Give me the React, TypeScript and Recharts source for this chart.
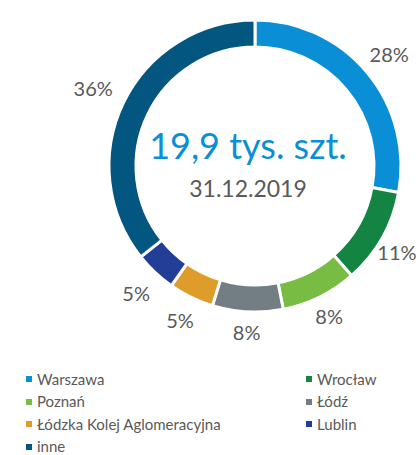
import React from 'react';
import { PieChart, Pie, Cell, Legend } from 'recharts';

// udział w taborze, %
const cities = ['Warszawa', 'Wrocław', 'Poznań', 'Łódź', 'Łódzka Kolej Aglomeracyjna', 'Lublin', 'inne'];
const shares = [27.9, 10.6, 8.4, 7.8, 5.0, 4.6, 35.7];
const colors = ['#0a8fd6', '#138441', '#79bc43', '#737d84', '#de9c2b', '#233e97', '#03567f'];

const totalLabel = '19,9 tys. szt.';
const dateLabel = '31.12.2019';

const data = cities.map((name, i) => ({ name, value: shares[i], color: colors[i] }));

const FONT = 'Lato, "Open Sans", sans-serif';
const RADIAN = Math.PI / 180;
const LABEL_FS = 20;
const WIDTH = 420;

// label box sits just outside the ring, like Excel's "outside end"
const renderLabel = (props: any) => {
  const { cx, cy, midAngle, outerRadius, value } = props;
  const text = `${Math.round(value)}%`;
  const w = ((text.length - 1) * 0.58 + 0.85) * LABEL_FS;
  const h = 16;
  const cos = Math.cos(-midAngle * RADIAN);
  const sin = Math.sin(-midAngle * RADIAN);
  const gap = cos < 0 ? 12 : 8;
  const r = outerRadius + gap + (w / 2) * Math.abs(cos) + (h / 2) * Math.abs(sin);
  const x = Math.min(cx + r * cos, WIDTH - w / 2 - 3);
  const y = cy + r * sin;
  return (
    <text x={x} y={y} fill="#595959" fontSize={LABEL_FS} fontFamily={FONT} textAnchor="middle" dominantBaseline="central">
      {text}
    </text>
  );
};

const renderLegend = () => (
  <div style={{ display: 'grid', gridTemplateColumns: '280px 140px', fontFamily: FONT, fontSize: 15, color: '#595959' }}>
    {data.map((d) => (
      <div key={d.name} style={{ display: 'flex', alignItems: 'center', height: 22.5, paddingLeft: 26 }}>
        <span style={{ width: 6, height: 6, background: d.color, marginRight: 5, flexShrink: 0 }} />
        <span style={{ lineHeight: '17px' }}>{d.name}</span>
      </div>
    ))}
  </div>
);

export default function App() {
  return (
    <div style={{ position: 'absolute', left: 0, top: 0, width: WIDTH, height: 455, background: '#fff', overflow: 'hidden' }}>
      <PieChart width={WIDTH} height={455}>
        <Pie
          data={data}
          dataKey="value"
          cx={250}
          cy={161}
          innerRadius={119}
          outerRadius={146}
          startAngle={90}
          endAngle={-270}
          stroke="#ffffff"
          strokeWidth={3}
          label={renderLabel}
          labelLine={false}
          isAnimationActive={false}
        >
          {data.map((d) => (
            <Cell key={d.name} fill={d.color} />
          ))}
        </Pie>
        <text x={248} y={150} textAnchor="middle" fill="#0a8fd6" fontSize={36} fontFamily={FONT} dominantBaseline="middle">
          {totalLabel}
        </text>
        <text x={248} y={191} textAnchor="middle" fill="#595959" fontSize={23} fontFamily={FONT} dominantBaseline="middle">
          {dateLabel}
        </text>
        <Legend content={renderLegend} wrapperStyle={{ top: 368, left: 0, width: WIDTH }} />
      </PieChart>
    </div>
  );
}
